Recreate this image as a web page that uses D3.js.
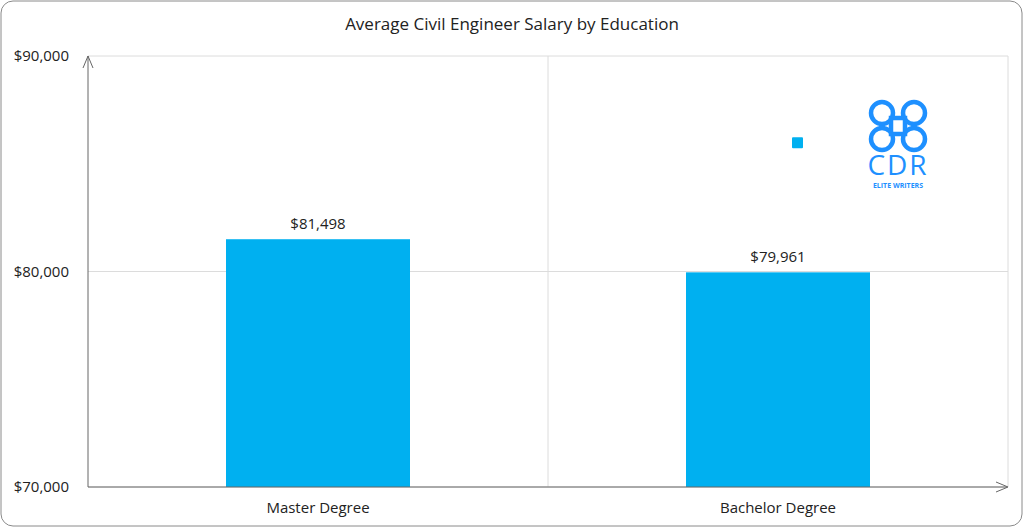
<!DOCTYPE html>
<html><head><meta charset="utf-8">
<script src="https://cdn.jsdelivr.net/npm/d3@7"></script>
<style>body{margin:0;background:#fff}svg{font-family:Aptos,"Open Sans","Liberation Sans",sans-serif}</style>
</head><body><svg id="c" width="1024" height="528"></svg>
<script>
var categories = ['Master Degree', 'Bachelor Degree'];
var salaries = [81498, 79961];
var yTicks = [70000, 80000, 90000];
var marker = { category: 'Bachelor Degree', value: 86000 };

(function () {
  var svg = d3.select('#c');
  var left = 88, right = 1008, top = 56, bottom = 487;
  var x = d3.scaleBand().domain(categories).range([left, right]).paddingInner(0.6).paddingOuter(0.3);
  var y = d3.scaleLinear().domain([70000, 90000]).range([bottom, top]);
  var fmt = d3.format('$,');

  svg.append('rect').attr('x', 1).attr('y', 1).attr('width', 1021).attr('height', 525)
    .attr('rx', 12).attr('fill', '#fff').attr('stroke', '#8a8a8a');

  svg.append('text').attr('x', 512).attr('y', 30).attr('text-anchor', 'middle')
    .attr('font-size', 17).attr('fill', '#222').text('Average Civil Engineer Salary by Education');

  // grid
  yTicks.forEach(function (t) {
    svg.append('line').attr('x1', left).attr('x2', right).attr('y1', y(t)).attr('y2', y(t))
      .attr('stroke', '#dcdcdc');
    svg.append('text').attr('x', 69).attr('y', y(t) + 5).attr('text-anchor', 'end')
      .attr('font-size', 15).attr('fill', '#222').text(fmt(t));
  });
  svg.append('line').attr('x1', (left + right) / 2).attr('x2', (left + right) / 2).attr('y1', top).attr('y2', bottom).attr('stroke', '#dcdcdc');
  svg.append('line').attr('x1', right).attr('x2', right).attr('y1', top).attr('y2', bottom).attr('stroke', '#dcdcdc');

  // bars
  svg.selectAll('rect.bar').data(categories).enter().append('rect').attr('class', 'bar')
    .attr('x', function (d) { return x(d); }).attr('width', x.bandwidth())
    .attr('y', function (d, i) { return y(salaries[i]); })
    .attr('height', function (d, i) { return bottom - y(salaries[i]); })
    .attr('fill', '#00b0f0');
  svg.selectAll('text.lbl').data(categories).enter().append('text')
    .attr('x', function (d) { return x(d) + x.bandwidth() / 2; })
    .attr('y', function (d, i) { return y(salaries[i]) - 10; })
    .attr('text-anchor', 'middle').attr('font-size', 15).attr('fill', '#222')
    .text(function (d, i) { return fmt(salaries[i]); });
  svg.selectAll('text.cat').data(categories).enter().append('text')
    .attr('x', function (d) { return x(d) + x.bandwidth() / 2; }).attr('y', 513)
    .attr('text-anchor', 'middle').attr('font-size', 15).attr('fill', '#222').text(function (d) { return d; });

  // stray marker
  svg.append('rect').attr('x', x(marker.category) + x.bandwidth() / 2 + 14).attr('y', y(marker.value) - 5)
    .attr('width', 11).attr('height', 11).attr('rx', 1).attr('fill', '#00b0f0');

  // axes with arrows
  var ax = '#666';
  svg.append('line').attr('x1', left).attr('x2', left).attr('y1', bottom).attr('y2', top).attr('stroke', ax);
  svg.append('path').attr('d', 'M' + (left - 5) + ',' + (top + 12) + 'L' + left + ',' + top + 'L' + (left + 5) + ',' + (top + 12))
    .attr('fill', 'none').attr('stroke', ax);
  svg.append('line').attr('x1', left).attr('x2', right - 1).attr('y1', bottom).attr('y2', bottom).attr('stroke', ax);
  svg.append('path').attr('d', 'M' + (right - 12) + ',' + (bottom - 5) + 'L' + right + ',' + bottom + 'L' + (right - 12) + ',' + (bottom + 5))
    .attr('fill', 'none').attr('stroke', ax);

  // logo
  var logo = svg.append('g').attr('fill', 'none').attr('stroke', '#1e90ff').attr('stroke-width', 4.5);
  [[882, 113], [914, 113], [882, 139], [914, 139]].forEach(function (c) {
    logo.append('circle').attr('cx', c[0]).attr('cy', c[1]).attr('r', 11);
  });
  logo.append('rect').attr('x', 891).attr('y', 118).attr('width', 14).attr('height', 16);
  svg.append('text').attr('x', 898).attr('y', 175).attr('text-anchor', 'middle')
    .attr('font-size', 28).attr('fill', '#1e90ff').attr('letter-spacing', 2).text('CDR');
  svg.append('text').attr('x', 898).attr('y', 188).attr('text-anchor', 'middle')
    .attr('font-size', 7).attr('font-weight', 'bold').attr('fill', '#1e90ff').text('ELITE WRITERS');
}());
</script></body></html>
